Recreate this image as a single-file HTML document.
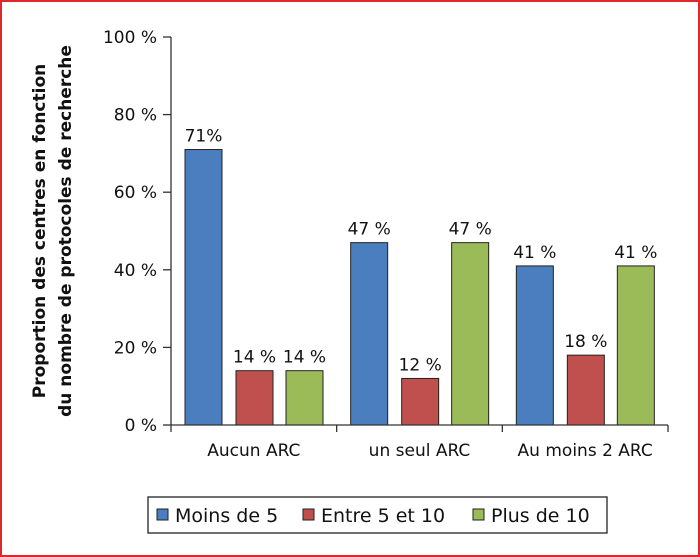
<!DOCTYPE html>
<html><head><meta charset="utf-8"><style>
body{margin:0;background:#fff}
svg{display:block;font-family:"DejaVu Sans","Liberation Sans",sans-serif}
</style></head><body>
<svg width="700" height="557">
<rect x="1" y="1" width="698" height="555" fill="#fff" stroke="#e0282c" stroke-width="2"/>
<g id="g"></g>
</svg>
<script>
const categories=["Aucun ARC","un seul ARC","Au moins 2 ARC"];
const seriesNames=["Moins de 5","Entre 5 et 10","Plus de 10"];
const moins5=[71,47,41];
const entre5_10=[14,12,18];
const plus10=[14,47,41];
const labelsMoins5=["71%","47 %","41 %"];
const labelsEntre=["14 %","12 %","18 %"];
const labelsPlus=["14 %","47 %","41 %"];
const yTicks=[0,20,40,60,80,100];
const colors=["#4a7ebf","#c0504d","#9bbb59"];
const NS="http://www.w3.org/2000/svg",g=document.getElementById('g');
function el(t,a,txt){const e=document.createElementNS(NS,t);for(const k in a)e.setAttribute(k,a[k]);if(txt!=null)e.textContent=txt;g.appendChild(e);return e;}
const x0=171,x1=668,yB=425,yT=37;
const y=v=>yB-(v/100)*(yB-yT);
const gw=(x1-x0)/categories.length;
const series=[moins5,entre5_10,plus10],labs=[labelsMoins5,labelsEntre,labelsPlus];
const bw=37,off=[14,65,115];
series.forEach((s,si)=>s.forEach((v,ci)=>{
 const bx=x0+ci*gw+off[si];
 const r=el('rect',{x:bx,y:y(v),width:bw,height:yB-y(v),fill:colors[si],stroke:'#222','stroke-width':1});
 
 
 const t=el('text',{x:bx+bw/2,y:y(v)-8,'text-anchor':'middle','font-size':17,fill:'#111'},labs[si][ci]);
 
 
}));
let a=el('line',{x1:x0,y1:yT,x2:x0,y2:yB,stroke:'#333','stroke-width':1.3});

a=el('line',{x1:x0,y1:yB,x2:x1,y2:yB,stroke:'#333','stroke-width':1.3});

yTicks.forEach(v=>{
 el('line',{x1:x0-8,y1:y(v),x2:x0,y2:y(v),stroke:'#333','stroke-width':1.3});
 const t=el('text',{x:x0-14,y:y(v)+6,'text-anchor':'end','font-size':17,fill:'#111'},v+' %');
 
 
});
for(let i=0;i<=categories.length;i++)el('line',{x1:x0+i*gw,y1:yB,x2:x0+i*gw,y2:yB+7,stroke:'#333','stroke-width':1.3});
categories.forEach((c,i)=>{
 const t=el('text',{x:x0+(i+.5)*gw,y:yB+31,'text-anchor':'middle','font-size':17,fill:'#111'},c);
 
 
});
let yt=el('text',{transform:'translate(45,231) rotate(-90)','text-anchor':'middle','font-size':17,'font-weight':'bold',fill:'#111'},'Proportion des centres en fonction');

yt=el('text',{transform:'translate(71,231) rotate(-90)','text-anchor':'middle','font-size':17,'font-weight':'bold',fill:'#111'},'du nombre de protocoles de recherche');

const lb=el('rect',{x:148,y:497,width:459,height:36,fill:'#fff',stroke:'#222','stroke-width':1.3});

const lx=[157,303,473];
seriesNames.forEach((n,i)=>{
 el('rect',{x:lx[i],y:509,width:11,height:11,fill:colors[i],stroke:'#222','stroke-width':1});
 const t=el('text',{x:lx[i]+18,y:522,'font-size':19,fill:'#111'},n);
 
 
});
</script>
</body></html>
